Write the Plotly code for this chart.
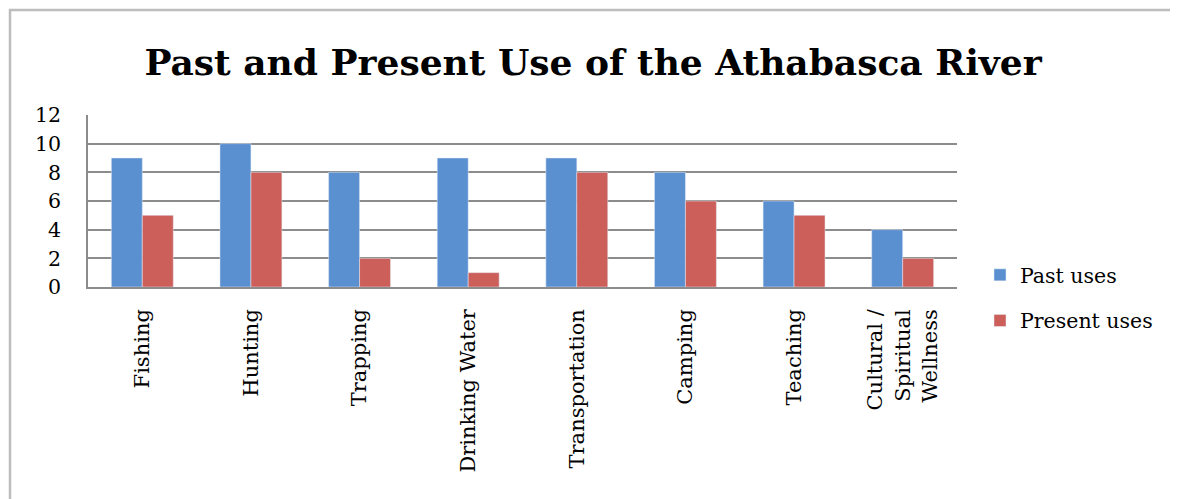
import plotly.graph_objects as go

categories = ["Fishing", "Hunting", "Trapping", "Drinking Water", "Transportation",
              "Camping", "Teaching", "Cultural /<br>Spiritual<br>Wellness"]
past_uses = [9, 10, 8, 9, 9, 8, 6, 4]
present_uses = [5, 8, 2, 1, 8, 6, 5, 2]
y_ticks = [0, 2, 4, 6, 8, 10, 12]

W, H = 1178, 499
OFF = 8  # page body margin
L, R, T, B = 88 - OFF, 957 - OFF, 115 - OFF, 287 - OFF

fig = go.Figure()
fig.add_trace(go.Bar(name="Past uses", x=categories, y=past_uses,
                     marker_color="#5A8FD0", legendgroup="a"))
fig.add_trace(go.Bar(name="Present uses", x=categories, y=present_uses,
                     marker_color="#CD5F5A", legendgroup="b"))

fontfam = "DejaVu Serif"
px_w = R - L
px_h = B - T
def px2x(p):
    return (p - OFF - L) / px_w
def py2y(p):
    return (B - (p - OFF)) / px_h

fig.update_layout(
    width=W, height=H,
    margin=dict(l=L, r=W - R, t=T, b=H - B),
    paper_bgcolor="white", plot_bgcolor="white",
    barmode="group", bargap=0.43, bargroupgap=0,
    title=dict(text="<b>Past and Present Use of the Athabasca River</b>",
               x=0.5 - (OFF / 2) / W, xanchor="center", y=1 - (62 - OFF) / H, yanchor="middle",
               font=dict(family=fontfam, size=36, color="black")),
    font=dict(family=fontfam, color="black"),
    legend=dict(x=px2x(980), y=py2y(255), xanchor="left", yanchor="top",
                font=dict(size=20.5, family=fontfam), tracegroupgap=16,
                traceorder="grouped", itemwidth=30, bgcolor="rgba(0,0,0,0)"),
    xaxis=dict(tickangle=-90, tickfont=dict(size=21, family=fontfam),
               showline=True, linecolor="#8c8c8c", linewidth=1.5,
               ticks="", showgrid=False, ticklabelstandoff=12),
    yaxis=dict(range=[0, 12], tickvals=y_ticks, tickfont=dict(size=20.5, family=fontfam),
               showline=True, linecolor="#8c8c8c", linewidth=1.5,
               gridcolor="#8c8c8c", gridwidth=1.5, ticks="", zeroline=False,
               ticklabelstandoff=21),
    shapes=[dict(type="rect", xref="paper", yref="paper",
                 x0=px2x(10), x1=px2x(1173), y0=py2y(510), y1=py2y(10),
                 line=dict(color="#bdbdbd", width=2.5), fillcolor="rgba(0,0,0,0)",
                 layer="below")],
)

fig.write_html("out.html")
